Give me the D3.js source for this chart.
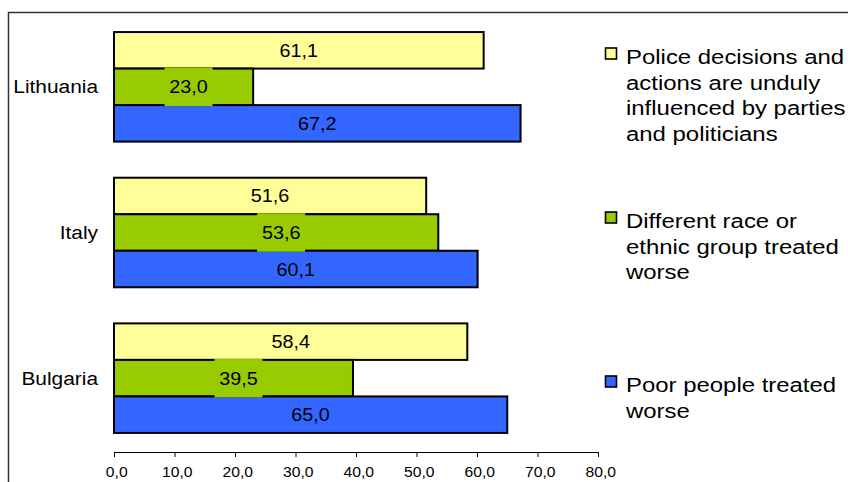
<!DOCTYPE html>
<html>
<head>
<meta charset="utf-8">
<script src="https://cdn.jsdelivr.net/npm/d3@7/dist/d3.min.js"></script>
<style>
  body { margin: 0; background: #fff; }
  text { font-family: "Liberation Sans", Arial, sans-serif; font-weight: normal; fill: #000; }
</style>
</head>
<body>
<div class="chart"></div>
<script>
// data
var countries = ['Lithuania', 'Italy', 'Bulgaria'];
var police = [61.1, 51.6, 58.4];
var race = [23.0, 53.6, 39.5];
var poor = [67.2, 60.1, 65.0];
var tickValues = [0, 10, 20, 30, 40, 50, 60, 70, 80];
var legendText = [
  ['Police decisions and', 'actions are unduly', 'influenced by parties', 'and politicians'],
  ['Different race or', 'ethnic group treated', 'worse'],
  ['Poor people treated', 'worse']
];

var series = [police, race, poor];
var colors = ['#ffff99', '#99cc00', '#3366ff'];
var fmt = function(v) { return d3.format('.1f')(v).replace('.', ','); };

var svg = d3.select('.chart')
  .append('svg')
  .attr('width', 848)
  .attr('height', 482);

// outer frame (runs off right and bottom)
svg.append('rect')
  .attr('x', 8.5).attr('y', 12.5)
  .attr('width', 900).attr('height', 500)
  .attr('fill', 'none')
  .attr('stroke', '#333')
  .attr('stroke-width', 1.5);

var x = d3.scaleLinear().domain([0, 80]).range([114, 598]);
var y = d3.scaleBand().domain(countries).range([14, 451]).paddingInner(0.248).paddingOuter(0.124);
var ys = d3.scaleBand().domain([0, 1, 2]).range([0, y.bandwidth()]);

var groups = svg.selectAll('.grp')
  .data(countries)
  .enter().append('g')
  .attr('class', 'grp')
  .attr('transform', function(d) { return 'translate(0,' + y(d) + ')'; });

// bars
groups.each(function(c, ci) {
  var g = d3.select(this);
  series.forEach(function(s, si) {
    g.append('rect')
      .attr('x', x(0))
      .attr('y', ys(si))
      .attr('width', x(s[ci]) - x(0))
      .attr('height', ys.bandwidth())
      .attr('fill', colors[si])
      .attr('stroke', '#000')
      .attr('stroke-width', 2);
  });
});

// data labels
groups.each(function(c, ci) {
  var g = d3.select(this);
  series.forEach(function(s, si) {
    var cx = (x(s[ci]) + x(0)) / 2 + (si === 1 ? 5 : 0);
    var cy = ys(si) + ys.bandwidth() / 2;
    if (si === 1) {
      g.append('rect')
        .attr('x', cx - 24)
        .attr('y', ys(si) - 1)
        .attr('width', 48)
        .attr('height', ys.bandwidth() + 2)
        .attr('fill', colors[si]);
    }
    g.append('text')
      .attr('transform', 'translate(' + cx + ',' + (cy + 6.5) + ') scale(1.1,1)')
      .attr('text-anchor', 'middle')
      .style('font-size', '18px')
      .text(fmt(s[ci]));
  });
  g.append('text')
    .attr('transform', 'translate(98,' + (y.bandwidth() / 2 + 6.5) + ') scale(1.16,1)')
    .attr('text-anchor', 'end')
    .style('font-size', '18px')
    .text(c);
});

// x axis
var axis = svg.append('g')
  .attr('transform', 'translate(0,452)')
  .call(d3.axisBottom(x).tickValues(tickValues).tickFormat(fmt).tickSize(5).tickSizeOuter(0));
axis.select('.domain').attr('stroke', '#000');
axis.selectAll('.tick line').attr('stroke', '#000');
axis.selectAll('.tick text')
  .attr('x', 2)
  .attr('y', 25)
  .attr('dy', 0)
  .attr('transform', 'scale(1.12,1)')
  .style('font-size', '14px')
  .style('font-family', '"Liberation Sans", Arial, sans-serif');

// legend
var ly = d3.scalePoint().domain([0, 1, 2]).range([64, 392]);
var legend = svg.selectAll('.leg')
  .data(legendText)
  .enter().append('g')
  .attr('class', 'leg')
  .attr('transform', function(d, i) { return 'translate(0,' + ly(i) + ')'; });

legend.append('rect')
  .attr('x', 605.5).attr('y', -16)
  .attr('width', 11).attr('height', 11)
  .attr('fill', function(d, i) { return colors[i]; })
  .attr('stroke', '#000')
  .attr('stroke-width', 1.6);

legend.append('text')
  .attr('transform', 'translate(626,0) scale(1.14,1)')
  .style('font-size', '21px')
  .selectAll('tspan')
  .data(function(d) { return d; })
  .enter().append('tspan')
  .attr('x', 0)
  .attr('y', function(d, i) { return i * 25.7; })
  .text(function(d) { return d; });
</script>
</body>
</html>
